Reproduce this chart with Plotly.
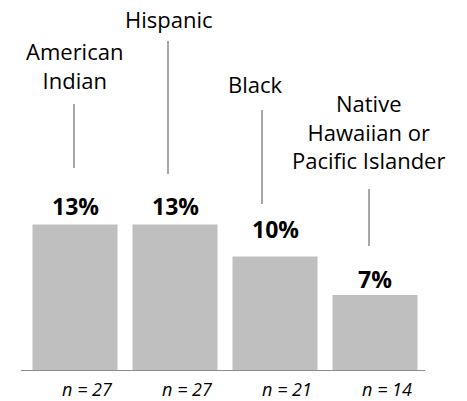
import plotly.graph_objects as go

categories = ["American Indian", "Hispanic", "Black", "Native Hawaiian or Pacific Islander"]
label_lines = ["American<br>Indian", "Hispanic", "Black", "Native<br>Hawaiian or<br>Pacific Islander"]
values = [13.3, 13.3, 10.4, 6.9]
value_labels = ["13%", "13%", "10%", "7%"]
n_labels = ["n = 27", "n = 27", "n = 21", "n = 14"]

W, H = 467, 401
L, R, T, B = 25, 42, 0, 30
YMAX = 33.7
plot_h = H - T - B
plot_w = W - L - R

def px_to_y(py):
    return (H - B - py) / plot_h * YMAX

def px_to_x(px):
    return (px - L) / plot_w * len(categories) - 0.5

FONT = "Open Sans"

fig = go.Figure()
fig.add_trace(go.Bar(
    x=list(range(len(categories))), y=values, width=0.85,
    marker=dict(color="#BFBFBF", line=dict(width=0)),
    hoverinfo="skip",
))

# value labels
val_shift = [18.5, 18.5, 27.5, 16.5]
for i, (v, t) in enumerate(zip(values, value_labels)):
    fig.add_annotation(x=i, y=v, text=f"<b>{t}</b>", showarrow=False,
                       xref="x", yref="y", yanchor="middle", yshift=val_shift[i],
                       font=dict(family=FONT, size=23, color="black"))

# category labels (pixel centres) and leader lines (pixel x, y0, y1)
label_pos = [(74.5, 65), (168.5, 19), (255.5, 83.5), (368, 131.5)]
leader = [(74, 104, 168), (168, 41, 174), (262, 110, 204), (369, 189, 246)]
for i, txt in enumerate(label_lines):
    lx, ly = label_pos[i]
    fig.add_annotation(x=px_to_x(lx), y=px_to_y(ly), text=txt, showarrow=False,
                       xref="x", yref="y", xanchor="center", yanchor="middle",
                       font=dict(family=FONT, size=22, color="black"))
    x, y0, y1 = leader[i]
    fig.add_shape(type="line", xref="x", yref="y",
                  x0=px_to_x(x), x1=px_to_x(x), y0=px_to_y(y0), y1=px_to_y(y1),
                  line=dict(color="#A6A6A6", width=2))

# baseline
fig.add_shape(type="line", xref="paper", yref="y", x0=-0.01, x1=1.0, y0=0, y1=0,
              line=dict(color="#8C8C8C", width=2))

fig.update_layout(
    width=W, height=H, margin=dict(l=L, r=R, t=T, b=B),
    paper_bgcolor="white", plot_bgcolor="white", showlegend=False,
    bargap=0.15,
    xaxis=dict(range=[-0.5, len(categories) - 0.5], tickmode="array",
               tickvals=list(range(len(categories))), ticktext=n_labels,
               showgrid=False, zeroline=False, showline=False, ticks="",
               ticklabelshift=12, ticklabelstandoff=6, automargin=False,
               tickfont=dict(family=FONT, size=18, color="black", style="italic")),
    yaxis=dict(range=[0, YMAX], visible=False, showgrid=False, zeroline=False),
)

fig.write_html("out.html", config={"displayModeBar": False, "staticPlot": True},
               post_script="document.body.style.margin='0';document.body.style.overflow='hidden';")
